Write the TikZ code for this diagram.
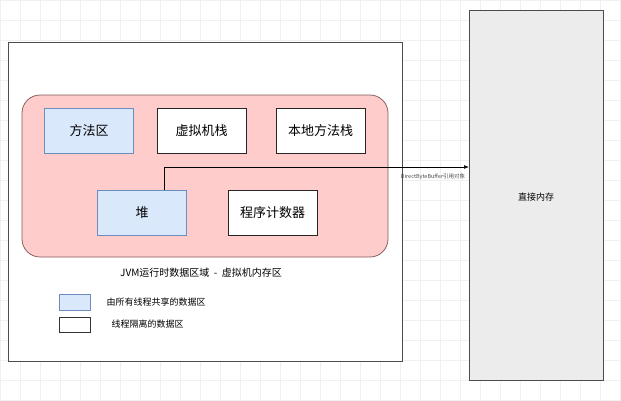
\documentclass[tikz,border=0pt]{standalone}
\usepackage{fontspec}
\setmainfont{Noto Sans CJK SC}
\usetikzlibrary{arrows.meta}
\definecolor{shared}{RGB}{218,232,252}
\definecolor{sharedline}{RGB}{108,142,191}
\definecolor{pinkbg}{RGB}{255,204,204}
\definecolor{pinkline}{RGB}{130,90,90}
\definecolor{memgray}{RGB}{236,236,236}
\tikzset{every picture/.style={line width=0.75pt}}
\tikzset{
  area/.style={draw=black!85, fill=white, minimum width=89pt, minimum height=45pt, inner sep=0pt, font=\fontsize{13}{15}\selectfont},
  sharedarea/.style={area, draw=sharedline, fill=shared},
}

\begin{document}
\begin{tikzpicture}[x=1pt,y=1pt,yscale=-1,xscale=1]
\useasboundingbox (0,0) rectangle (621,400);
%background grid
\draw[black!6, line width=0.5pt, step=20] (0,0) grid (621,400);

%Shape: Rectangle - outer area
\draw[black!70, fill=white] (8,42) rectangle (402,361);
%Shape: Rectangle - direct memory
\draw[black!70, fill=memgray] (469,10) rectangle (603,380);
%Shape: Rounded Rect - runtime areas
\draw[pinkline, fill=pinkbg, rounded corners=18pt] (22,95) rectangle (388,257);

% Text Node
\node[sharedarea] (method) at (89,130.5) {方法区};
\node[area] (vmstack) at (201.5,130.5) {虚拟机栈};
\node[area] (native) at (320.5,130.5) {本地方法栈};
\node[sharedarea] (heap) at (142,212.5) {堆};
\node[area] (pc) at (272.5,212.5) {程序计数器};
\node[font=\small] (memlabel) at (536,197) {直接内存};
\node (title) at (201,273) {JVM运行时数据区域 \ - \ 虚拟机内存区};

%Legend
\node[draw=sharedline, fill=shared, minimum width=31pt, minimum height=16pt, inner sep=0pt] (keyshared) at (74.5,302) {};
\node[draw=black!80, fill=white, minimum width=31pt, minimum height=15pt, inner sep=0pt] (keyown) at (74.5,324.5) {};
\node[anchor=west, font=\small] (keysharedtxt) at (103,302) {由所有线程共享的数据区};
\node[anchor=west, font=\small] (keyowntxt) at (108,324.5) {线程隔离的数据区};

%Connector
\coordinate (start) at (heap.north -| 164,0);
\coordinate (bend) at (164,167);
\draw[-{Latex[length=5pt]}, line width=0.6pt] (start) -- (bend) -- (bend -| 469,0);
\node[font=\fontsize{5.5}{6}\selectfont, text=black!70] (reflabel) at (433,177) {DirectByteBuffer引用对象};
\end{tikzpicture}
\end{document}
